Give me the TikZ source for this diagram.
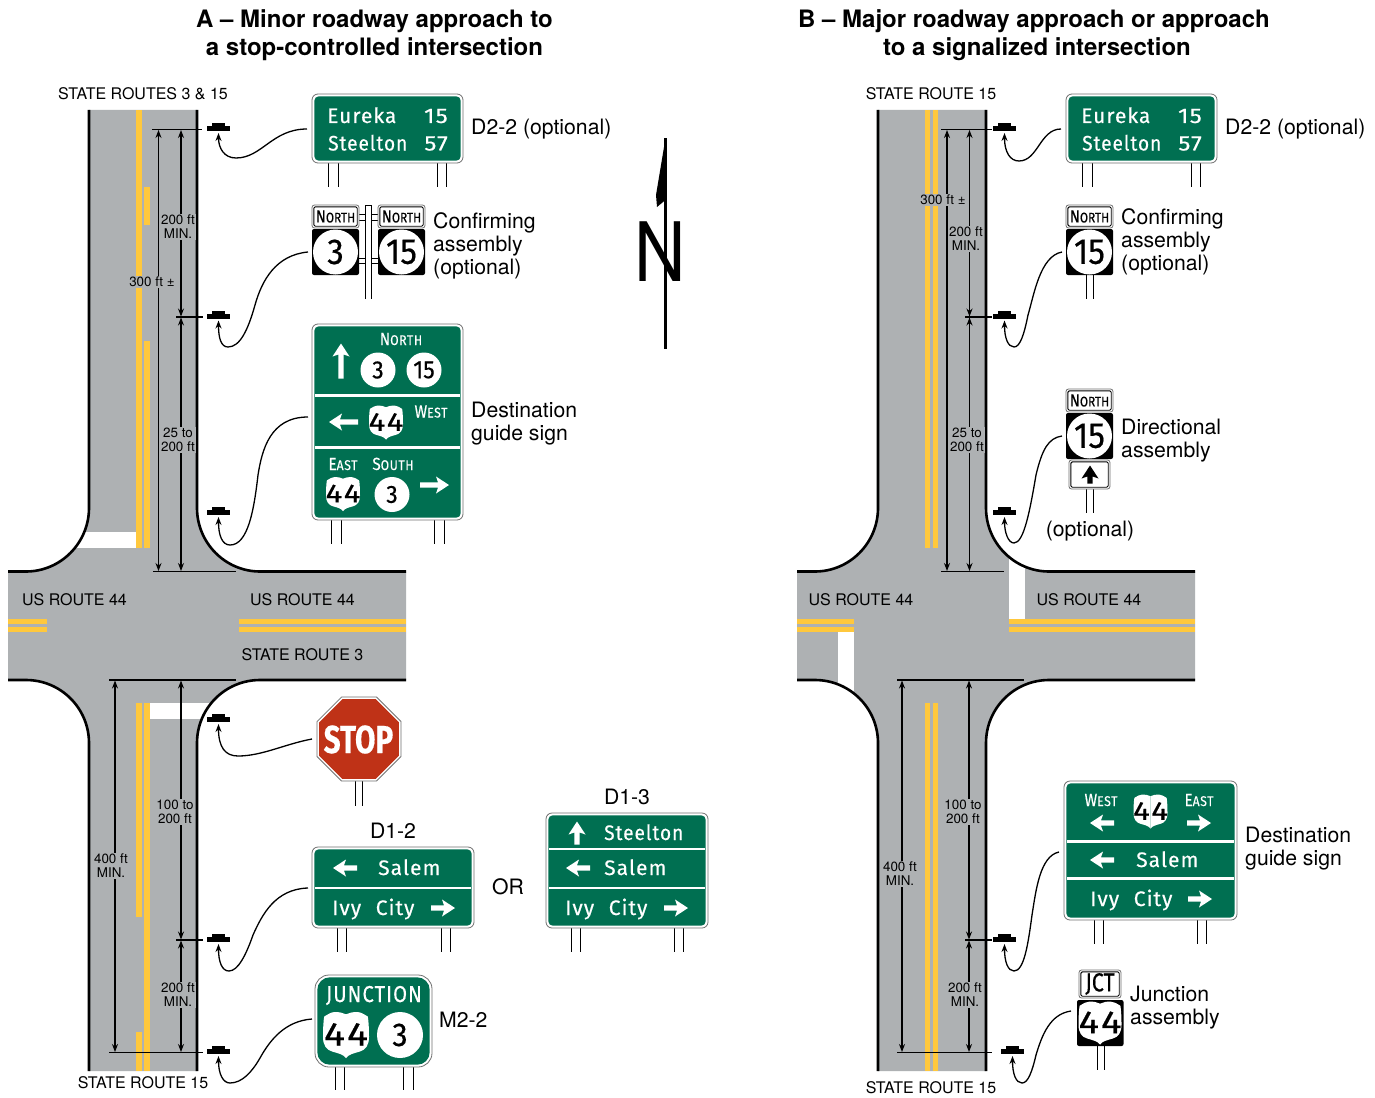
\documentclass[tikz,border=0pt]{standalone}
\usepackage{fontspec}
\usepackage{graphicx}
\setmainfont{TeX Gyre Heros}
\newfontfamily\sgn[LetterSpace=5,FakeBold=0.35]{Fira Sans}
\newfontfamily\sgnn[FakeBold=0.5]{Fira Sans}
\usetikzlibrary{arrows.meta,shapes.geometric}
\definecolor{roadgrey}{HTML}{AEB1B3}
\definecolor{lineyellow}{HTML}{FFC83D}
\definecolor{signgreen}{HTML}{006F51}
\definecolor{signedge}{HTML}{707070}
\definecolor{stopred}{HTML}{BF3217}
\newcommand\fsz[1]{\fontsize{#1}{#1}\selectfont}
\newcounter{nn}
\tikzset{
 dimarrow/.style={line width=1.2pt,{Stealth[length=8pt,width=6pt]}-{Stealth[length=8pt,width=6pt]}},
 refline/.style={line width=1.7pt},
 leadline/.style={line width=1.3pt,-{Stealth[length=8pt,width=6pt]}},
 postmark/.style={fill=black,inner sep=0,minimum width=23pt,minimum height=5pt,outer sep=0},
 edgeline/.style={line width=2.6pt},
 postline/.style={line width=1pt},
 caption/.style={font=\fontsize{21.2}{23}\selectfont,align=left,inner sep=0,anchor=west},
 roadlabel/.style={font=\fontsize{16}{16}\selectfont,inner sep=0},
 dimlabel/.style={font=\fontsize{13.4}{14}\selectfont,align=center,fill=roadgrey,inner sep=1pt,text=black},
 title/.style={font=\fontsize{24}{28}\selectfont\bfseries,align=center,inner sep=0},
 signbox/.style={draw=signedge,fill=white,line width=.8pt,inner sep=0,outer sep=0},
}
% named segment
\newcommand\seg[4]{\coordinate (#1a) at (#3); \coordinate (#1b) at (#4); \draw[#2] (#1a) -- (#1b);}
% name, start, marker position, path
\newcommand\leader[4]{%
 \node[postmark] (#1) at (#3) {};
 \fill ([xshift=-6.5pt]#1.north) rectangle ([xshift=6.5pt,yshift=3pt]#1.north);
 \coordinate (#1s) at (#2);
 \draw[leadline] (#1s) #4 .. ([yshift=-2pt]#1.south);}
% white sign text
\newcommand\sgt[5]{\stepcounter{nn}\node[anchor=#1,inner sep=0,text=white] (t\thenn) at (#2,#3) {\sgn\fsz{#4}#5};}
\newcommand\smc[4]{\scalebox{.87}[1]{{\fsz{#1}#3}{\fsz{#2}#4}}}
\newcommand\wide[1]{\scalebox{1.15}[1]{#1}}
% green sign: name x0 y0 x1 y1 radius
\newcommand\gsign[6]{%
 \pgfmathsetmacro\gw{#4-#2}\pgfmathsetmacro\gh{#5-#3}%
 \pgfmathsetmacro\gcx{(#4+#2)/2}\pgfmathsetmacro\gcy{(#5+#3)/2}%
 \node[signbox,rounded corners=#6pt,minimum width=\gw pt,minimum height=\gh pt] (#1) at (\gcx,\gcy) {};
 \pgfmathsetmacro\gxa{#2+2.3}\pgfmathsetmacro\gya{#3+2.3}\pgfmathsetmacro\gxb{#4-2.3}\pgfmathsetmacro\gyb{#5-2.3}%
 \pgfmathsetmacro\grr{#6-1.5}%
 \fill[signgreen,rounded corners=\grr pt] (\gxa,\gya) rectangle (\gxb,\gyb);}
\newcommand\divider[3]{\draw[white,line width=2.6pt] (#1+1,#3) -- (#2-1,#3);}
\newcommand\posts[4]{\draw[postline] (#1,#3) -- (#1,#4) (#2,#3) -- (#2,#4);}
% arrow glyph: x y rotation length colour
\newcommand\sarrow[5]{\begin{scope}[shift={(#1,#2)},rotate=#3]
 \pgfmathsetmacro\al{#4/2}\pgfmathsetmacro\ah{#4/2-11}
 \fill[#5] (-\al,2.6) -- (\ah,2.6) -- (\ah-2,8.5) -- (\al,0) -- (\ah-2,-8.5) -- (\ah,-2.6) -- (-\al,-2.6) -- cycle;
 \end{scope}}
% route circle: x y r size text
\newcommand\rcircle[5]{\stepcounter{nn}\node[circle,fill=white,inner sep=0,minimum size=#3*2pt] (c\thenn) at (#1,#2) {\sgnn\fsz{#4}\scalebox{.92}[1]{#5}};}
% US shield: x y half-width size
\newcommand\shieldhalf{(0,-.9) .. controls (.15,-.97) and (.3,-1) .. (.48,-1) .. controls (.65,-1) and (.78,-.9) .. (.95,-.8) .. controls (.98,-.6) and (1,-.3) .. (1,.08) .. controls (1,.45) and (.85,.65) .. (.6,.72) .. controls (.32,.8) and (.1,.85) .. (0,1) -- cycle}
\newcommand\shield[4]{\begin{scope}[shift={(#1,#2)},x=#3pt,y=-#3pt]
 \fill[white] \shieldhalf;
 \begin{scope}[xscale=-1]\fill[white] \shieldhalf;\end{scope}
 \stepcounter{nn}\node[inner sep=0,text=black] (u\thenn) at (0,-.03) {\sgnn\fsz{#4}\scalebox{1.2}[1]{\addfontfeature{LetterSpace=5}44}};
 \end{scope}}
% white plate with border: name x0 y0 x1 y1 text
\newcommand\plate[6]{%
 \pgfmathsetmacro\gw{#4-#2}\pgfmathsetmacro\gh{#5-#3}%
 \pgfmathsetmacro\gcx{(#4+#2)/2}\pgfmathsetmacro\gcy{(#5+#3)/2}%
 \node[signbox,rounded corners=2.5pt,minimum width=\gw pt,minimum height=\gh pt] (#1) at (\gcx,\gcy) {};
 \pgfmathsetmacro\gxa{#2+1.8}\pgfmathsetmacro\gya{#3+1.8}\pgfmathsetmacro\gxb{#4-1.8}\pgfmathsetmacro\gyb{#5-1.8}%
 \draw[line width=.9pt,rounded corners=1.5pt] (\gxa,\gya) rectangle (\gxb,\gyb);
 \node[inner sep=0] (#1t) at (#1.center) {\sgnn #6};}
\newcommand\northtxt{\scalebox{.97}[1]{\smc{17.5}{14}{N}{ORTH}}}
% black route square
\newcommand\rsquare[3]{\fill[rounded corners=2pt] (#1-23.5,#2-23) rectangle (#1+23.5,#2+23); \rcircle{#1}{#2}{22.5}{36}{#3}}
\newcommand\roadpath{(89,110) -- (89,508) .. controls (89,542.8) and (60.8,571.5) .. (26,571.5) -- (8,571.5) -- (8,680) -- (26,680) .. controls (60.8,680) and (89,708.2) .. (89,743) -- (89,1071) -- (197,1071) -- (197,743) .. controls (197,708.2) and (225.2,680) .. (260,680) -- (406,680) -- (406,571.5) -- (260,571.5) .. controls (225.2,571.5) and (197,542.8) .. (197,508) -- (197,110) -- cycle}
\newcommand\roadedges{(89,110) -- (89,508) .. controls (89,542.8) and (60.8,571.5) .. (26,571.5) -- (8,571.5)
 (8,680) -- (26,680) .. controls (60.8,680) and (89,708.2) .. (89,743) -- (89,1071)
 (197,1071) -- (197,743) .. controls (197,708.2) and (225.2,680) .. (260,680) -- (406,680)
 (406,571.5) -- (260,571.5) .. controls (225.2,571.5) and (197,542.8) .. (197,508) -- (197,110)}
\begin{document}
\begin{tikzpicture}[x=1pt,y=-1pt]
\path[use as bounding box,fill=white] (0,0) rectangle (1375,1097);

% ---- titles
\node[title] (titleA) at (374.5,35) {A -- Minor roadway approach to\\a stop-controlled intersection};
\node[title] (titleB) at (1034,35) {B -- Major roadway approach or approach\\\hspace*{6pt}to a signalized intersection};

% ---- panel A road
\fill[roadgrey] \roadpath;
\fill[lineyellow] (136,110) rectangle (141.5,548);
\fill[lineyellow] (144,187) rectangle (149.5,225);
\fill[lineyellow] (144,341) rectangle (149.5,548);
\fill[lineyellow] (8,619) rectangle (47,624);
\fill[lineyellow] (8,627) rectangle (47,632);
\fill[lineyellow] (239,619) rectangle (406,624);
\fill[lineyellow] (239,627) rectangle (406,632);
\fill[lineyellow] (136,703) rectangle (141.5,917);
\fill[lineyellow] (144,703) rectangle (149.5,1071);
\fill[lineyellow] (136,1032) rectangle (141.5,1071);
\begin{scope}
 \clip \roadpath;
 \fill[white] (40,532) rectangle (136,548);
 \fill[white] (149.5,703) rectangle (240,719);
\end{scope}
\draw[edgeline] \roadedges;

% ---- panel B road
\begin{scope}[xshift=789pt]
\fill[roadgrey] \roadpath;
\fill[lineyellow] (8,619) rectangle (65,624);
\fill[lineyellow] (8,627) rectangle (65,632);
\fill[lineyellow] (220,619) rectangle (406,624);
\fill[lineyellow] (220,627) rectangle (406,632);
\fill[lineyellow] (136,110) rectangle (141,548);
\fill[lineyellow] (144,110) rectangle (149,548);
\fill[lineyellow] (136,703) rectangle (141,1071);
\fill[lineyellow] (144,703) rectangle (149,1071);
\begin{scope}
 \clip \roadpath;
 \fill[white] (220,540) rectangle (236,619);
 \fill[white] (49,632) rectangle (65,720);
\end{scope}
\draw[edgeline] \roadedges;
\end{scope}

% ---- reference lines and dimensions, panel A
\seg{ra}{refline}{152,129.5}{202,129.5}
\seg{rb}{refline}{176,317}{203,317}
\seg{rc}{refline}{153,571.5}{236,571.5}
\seg{rd}{refline}{109,680}{236,680}
\seg{re}{refline}{176,940}{203,940}
\seg{rf}{refline}{109,1052.5}{203,1052.5}
\seg{da}{dimarrow}{158.5,130}{158.5,571}
\seg{db}{dimarrow}{181,130}{181,316.5}
\seg{dc}{dimarrow}{181,317.5}{181,571}
\seg{dd}{dimarrow}{115,680.5}{115,1052}
\seg{de}{dimarrow}{181,680.5}{181,939.5}
\seg{df}{dimarrow}{181,940.5}{181,1052}
\node[dimlabel] (la) at (178,227) {200 ft\\MIN.};
\node[dimlabel] (lb) at (152,282) {300 ft ±};
\node[dimlabel] (lc) at (178,440) {25 to\\200 ft};
\node[dimlabel] (ld) at (175,812) {100 to\\200 ft};
\node[dimlabel] (le) at (111,866) {400 ft\\MIN.};
\node[dimlabel] (lf) at (178,995) {200 ft\\MIN.};

% ---- reference lines and dimensions, panel B
\seg{sa}{refline}{941,129.5}{992,129.5}
\seg{sb}{refline}{965,317}{992,317}
\seg{sc}{refline}{941,571.5}{1004,571.5}
\seg{sd}{refline}{897,680}{1024,680}
\seg{se}{refline}{965,940}{992,940}
\seg{sf}{refline}{897,1052.5}{992,1052.5}
\seg{ea}{dimarrow}{947,130}{947,571}
\seg{eb}{dimarrow}{969.5,130}{969.5,316.5}
\seg{ec}{dimarrow}{969.5,317.5}{969.5,571}
\seg{ed}{dimarrow}{902,680.5}{902,1052}
\seg{ee}{dimarrow}{969,680.5}{969,939.5}
\seg{ef}{dimarrow}{969,940.5}{969,1052}
\node[dimlabel] (ma) at (966,239) {200 ft\\MIN.};
\node[dimlabel] (mb) at (943,200) {300 ft ±};
\node[dimlabel] (mc) at (967,440) {25 to\\200 ft};
\node[dimlabel] (md) at (963,812) {100 to\\200 ft};
\node[dimlabel] (me) at (900,874) {400 ft\\MIN.};
\node[dimlabel] (mf) at (965,995) {200 ft\\MIN.};

% ---- road labels
\node[roadlabel] (ra1) at (143,94) {STATE ROUTES 3 \& 15};
\node[roadlabel] (ra2) at (74.5,600) {US ROUTE 44};
\node[roadlabel] (ra3) at (302.5,600) {US ROUTE 44};
\node[roadlabel] (ra4) at (302.5,655) {STATE ROUTE 3};
\node[roadlabel] (ra5) at (143,1083) {STATE ROUTE 15};
\node[roadlabel] (rb1) at (931,94) {STATE ROUTE 15};
\node[roadlabel] (rb2) at (861,600) {US ROUTE 44};
\node[roadlabel] (rb3) at (1089,600) {US ROUTE 44};
\node[roadlabel] (rb4) at (931,1088) {STATE ROUTE 15};

% ---- leaders
\leader{ma1}{307,129}{218.5,128.5}{.. controls (272,129) and (262,158) .. (236,158) .. controls (224,158) and (218.5,148)}
\leader{ma2}{308,252}{218.5,316}{.. controls (276,255) and (262,280) .. (255,305) .. controls (248,330) and (240,347) .. (228,347) .. controls (221,347) and (218.5,338)}
\leader{ma3}{308,417}{218.5,512.5}{.. controls (270,417) and (262,450) .. (258,475) .. controls (254,510) and (248,545) .. (230,545) .. controls (222,545) and (218.5,535)}
\leader{ma4}{312,739}{218.5,719.5}{.. controls (285,744) and (262,756) .. (238,756) .. controls (225,756) and (218.5,747)}
\leader{ma5}{308,888}{218.5,939.5}{.. controls (275,889) and (262,915) .. (253,935) .. controls (246,955) and (238,971) .. (229,971) .. controls (222,971) and (218.5,962)}
\leader{ma6}{312,1019}{218.5,1051.5}{.. controls (285,1021) and (270,1040) .. (260,1058) .. controls (252,1072) and (242,1083) .. (230,1083) .. controls (223,1083) and (218.5,1074)}
\leader{mb1}{1061,129}{1004.5,128.5}{.. controls (1040,129) and (1038,161) .. (1019,161) .. controls (1010,161) and (1004.5,152)}
\leader{mb2}{1062,252}{1004.5,316}{.. controls (1040,256) and (1034,295) .. (1028,315) .. controls (1024,335) and (1020,347) .. (1014,347) .. controls (1008,347) and (1004.5,338)}
\leader{mb3}{1062,436}{1004.5,512.5}{.. controls (1048,438) and (1042,450) .. (1036,475) .. controls (1030,510) and (1024,543) .. (1014,543) .. controls (1008,543) and (1004.5,532)}
\leader{mb4}{1059,852}{1004.5,939.5}{.. controls (1040,856) and (1036,890) .. (1032,915) .. controls (1028,945) and (1024,971) .. (1014,971) .. controls (1008,971) and (1004.5,962)}
\leader{mb5}{1071,1011}{1012.5,1051.5}{.. controls (1050,1014) and (1042,1035) .. (1036,1055) .. controls (1032,1072) and (1028,1083) .. (1022,1083) .. controls (1016,1083) and (1012.5,1074)}

% ---- A: D2-2
\posts{328}{338}{163}{187}\posts{437}{446}{163}{187}
\gsign{sa1}{312}{94}{463}{163}{6}
\sgt{base west}{327}{123}{21}{Eureka}
\sgt{base east}{448}{123}{21}{\wide{15}}
\sgt{base west}{328}{150.5}{21}{\scalebox{.91}[1]{Steelton}}
\sgt{base east}{448}{150.5}{21}{\wide{57}}
\node[caption] (ca1) at (471,129) {D2-2 (optional)};

% ---- A: confirming assembly
\foreach \yy in {214,220,258,263} {\draw[line width=.8pt] (359,\yy) -- (378,\yy);}
\plate{pa1}{312}{205}{359}{228}{\northtxt}
\plate{pa2}{378}{205}{425}{228}{\northtxt}
\rsquare{335.5}{252}{3}
\rsquare{401.5}{252}{15}
\node[fill=white,inner sep=0,minimum width=6.5pt,minimum height=93pt] (posta) at (368.5,252.5) {};
\draw[line width=1pt] (posta.south west) -- (posta.north west) -- (posta.north east) -- (posta.south east);
\node[caption] (ca2) at (433,246) {Confirming\\assembly\\(optional)};

% ---- A: destination guide sign
\posts{331}{341}{520}{544}\posts{434}{444}{520}{544}
\gsign{sa2}{312}{324}{463}{520}{6}
\divider{314}{461}{395.5}
\divider{314}{461}{447.5}
\sarrow{341}{361}{90}{35}{white}
\sgt{base}{401}{345}{16}{\smc{17.5}{14}{N}{ORTH}}
\rcircle{378}{370}{17.5}{25}{3}
\rcircle{424}{370}{17.5}{25}{15}
\sarrow{343.5}{422}{180}{29}{white}
\shield{386}{422.5}{17}{26}
\sgt{base}{431}{417.5}{16}{\smc{17.5}{14}{W}{EST}}
\sgt{base}{343}{470}{16}{\smc{17.5}{14}{E}{AST}}
\sgt{base}{393}{470}{16}{\smc{17.5}{14}{S}{OUTH}}
\shield{343}{494}{17}{26}
\rcircle{392}{494.5}{17.5}{25}{3}
\sarrow{434.5}{485}{0}{29}{white}
\node[caption] (ca3) at (471,424) {Destination\\guide sign};

% ---- A: STOP
\posts{355}{362}{781}{806}
\node[regular polygon,regular polygon sides=8,draw=signedge,fill=white,line width=.8pt,inner sep=0,minimum size=91pt] (stopo) at (359,739) {};
\node[regular polygon,regular polygon sides=8,fill=stopred,inner sep=0,minimum size=86.5pt] (stopi) at (359,739) {};
\node[inner sep=0,text=white,anchor=base] (stopt) at (358.5,753) {\sgnn\bfseries\fsz{39}\scalebox{.76}[1]{STOP}};

% ---- A: D1-2
\posts{337}{346}{928}{952}\posts{441}{450}{928}{952}
\node[caption,anchor=center] (ca4) at (393,831) {D1-2};
\gsign{sa3}{312}{847}{474}{928}{6}
\divider{314}{472}{888}
\sarrow{345}{868}{180}{24}{white}
\sgt{base west}{378}{875}{21}{Salem}
\sgt{base west}{332}{915}{21}{Ivy\hspace{8pt} City}
\sarrow{443}{908}{0}{24}{white}
\node[caption,anchor=center] (ca5) at (508,887) {OR};

% ---- A: D1-3
\posts{571}{580}{928}{952}\posts{674}{683}{928}{952}
\node[caption,anchor=center] (ca6) at (627,797) {D1-3};
\gsign{sa4}{546}{813}{708}{928}{6}
\divider{548}{706}{849}
\divider{548}{706}{888}
\sarrow{577}{833}{90}{23}{white}
\sgt{base west}{604}{840}{21}{\scalebox{.91}[1]{Steelton}}
\sarrow{578}{868}{180}{24}{white}
\sgt{base west}{604}{875}{21}{Salem}
\sgt{base west}{565}{915}{21}{Ivy\hspace{8pt} City}
\sarrow{676}{908}{0}{24}{white}

% ---- A: M2-2
\posts{335}{344}{1067}{1090}\posts{403}{413}{1067}{1090}
\gsign{sa5}{315}{975}{432}{1067}{14}
\sgt{base}{374}{1002}{23}{\scalebox{.88}[1]{JUNCTION}}
\shield{346}{1035}{23}{33}
\rcircle{400}{1035}{23}{33}{3}
\node[caption] (ca7) at (439,1020) {M2-2};

% ---- north arrow
\node[inner sep=0,anchor=base] (northn) at (660,281) {\fsz{82}\scalebox{.87}[1]{N}};
\coordinate (na) at (665.5,138);
\coordinate (nb) at (665.5,349);
\draw[line width=2.4pt] (na) -- (nb);
\fill (na) -- (656,195) -- (657,207) -- (665.5,200) -- cycle;

% ---- B: D2-2
\posts{1082}{1092}{163}{187}\posts{1191}{1200}{163}{187}
\gsign{sb1}{1066}{94}{1217}{163}{6}
\sgt{base west}{1081}{123}{21}{Eureka}
\sgt{base east}{1202}{123}{21}{\wide{15}}
\sgt{base west}{1082}{150.5}{21}{\scalebox{.91}[1]{Steelton}}
\sgt{base east}{1202}{150.5}{21}{\wide{57}}
\node[caption] (cb1) at (1225,129) {D2-2 (optional)};

% ---- B: confirming
\posts{1086}{1093}{275}{299}
\plate{pb1}{1066}{205}{1113}{228}{\northtxt}
\rsquare{1089.5}{252}{15}
\node[caption] (cb2) at (1121,242) {Confirming\\assembly\\(optional)};

% ---- B: directional
\posts{1086}{1093}{489}{513}
\plate{pb2}{1066}{389}{1113}{412}{\northtxt}
\rsquare{1089.5}{436}{15}
\plate{pb3}{1069}{460}{1110}{489}{}
\sarrow{1090}{474.5}{90}{18}{black}
\node[caption] (cb3) at (1121,441) {Directional\\assembly};
\node[caption,anchor=center] (cb4) at (1090,531) {(optional)};

% ---- B: destination
\posts{1094}{1103}{920}{944}\posts{1197}{1206}{920}{944}
\gsign{sb2}{1064}{781}{1237}{920}{6}
\divider{1066}{1235}{841.5}
\divider{1066}{1235}{878.5}
\sgt{base}{1101}{806}{16}{\smc{17.5}{14}{W}{EST}}
\sgt{base}{1199}{806}{16}{\smc{17.5}{14}{E}{AST}}
\shield{1150.5}{811.5}{17}{26}
\sarrow{1102}{823}{180}{24}{white}
\sarrow{1199}{823}{0}{24}{white}
\sarrow{1102}{860}{180}{24}{white}
\sgt{base west}{1136}{867}{21}{Salem}
\sgt{base west}{1090}{906}{21}{Ivy\hspace{8pt} City}
\sarrow{1200}{899}{0}{24}{white}
\node[caption] (cb5) at (1245,849) {Destination\\guide sign};

% ---- B: junction
\posts{1097}{1104}{1046}{1070}
\plate{pb4}{1079}{970}{1121}{998}{\fsz{26}\scalebox{.82}[1]{JCT}}
\fill[rounded corners=2pt] (1077,1000) rectangle (1123.5,1046);
\shield{1100}{1023}{21.5}{32}
\node[caption] (cb6) at (1130,1007.5) {Junction\\assembly};
\end{tikzpicture}
\end{document}
